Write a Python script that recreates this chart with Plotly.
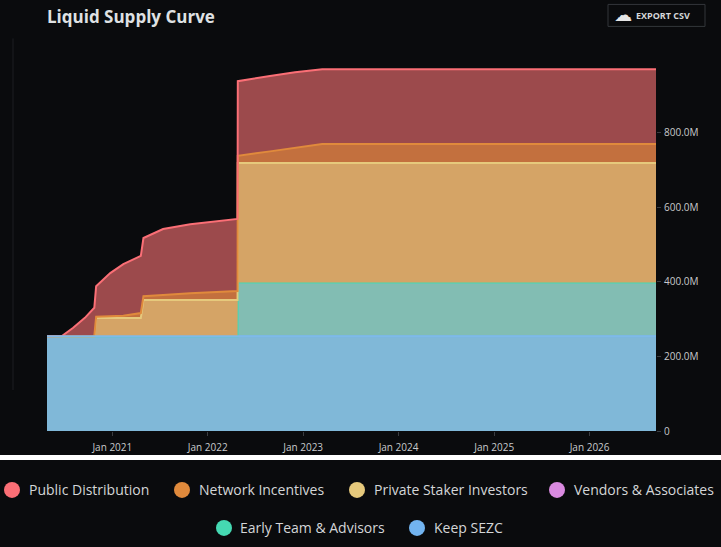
import plotly.graph_objects as go

dates = ["2020-04-26", "2020-06-15", "2020-06-22", "2020-08-03", "2020-09-18", "2020-10-24", "2020-10-31",
         "2020-12-24", "2021-02-12", "2021-04-20", "2021-04-30", "2021-07-14", "2021-10-26", "2022-04-25",
         "2022-04-26", "2022-08-27", "2022-12-01", "2023-03-15", "2026-09-12"]
keep_sezc = [254] * 19
early_team = [0] * 14 + [144] * 5
vendors = [0] * 19
private_staker = [0] * 6 + [49, 49, 49, 49, 97, 97, 97, 97, 320, 320, 320, 320, 320]
network = [0] * 6 + [3, 4, 6, 13, 10, 13, 18, 24, 19, 31, 41, 51, 51]
public = [0, 0, 0.5, 22, 49, 76, 82, 116, 138, 153, 156, 177, 185, 193, 200, 202, 202, 200, 200]

y_ticks = [0, 200, 400, 600, 800]
y_labels = ["0", "200.0M", "400.0M", "600.0M", "800.0M"]
legend_names = ["Public Distribution", "Network Incentives", "Private Staker Investors",
                "Vendors & Associates", "Early Team & Advisors", "Keep SEZC"]
legend_colors = ["#fb6f76", "#e08a3c", "#e6c97c", "#da8ae0", "#45d9b2", "#72b4f0"]

W, H = 721, 547
L, R, T, B = 47, 656, 38.6, 431
BG = "#0a0b0d"

series = [
    ("Keep SEZC", keep_sezc, "#72b0e0", "#80b8d8", 2),
    ("Early Team & Advisors", early_team, "#45d9b2", "#82bdb3", 2),
    ("Vendors & Associates", vendors, "#da8ae0", "#da8ae0", 0),
    ("Private Staker Investors", private_staker, "#e6c97c", "#d5a466", 2),
    ("Network Incentives", network, "#e08a3c", "#c3703e", 2),
    ("Public Distribution", public, "#fb6f76", "#9c4a4c", 2),
]

fig = go.Figure()
for name, vals, line, fill, lw in series:
    fig.add_trace(go.Scatter(x=dates, y=vals, name=name, mode="lines", stackgroup="a",
                             line=dict(color=line, width=lw, shape="linear"),
                             fillcolor=fill, hoverinfo="skip"))
# Keep SEZC's outline sits on top of the zero-height series at its upper edge.
fig.add_trace(go.Scatter(x=dates, y=keep_sezc, mode="lines", line=dict(color="#7fbae8", width=2),
                         hoverinfo="skip", showlegend=False))


def px(x):
    return (x - L) / (R - L)


def py(y):
    return (B - y) / (B - T)


shapes = [
    dict(type="rect", xref="paper", yref="paper", x0=px(0), x1=px(W), y0=py(460), y1=py(455),
         fillcolor="#ffffff", line_width=0, layer="above"),
    dict(type="line", xref="paper", yref="paper", x0=px(13), x1=px(13), y0=py(38), y1=py(390),
         line=dict(color="#1d1f22", width=1)),
    dict(type="rect", xref="paper", yref="paper", x0=px(608), x1=px(705), y0=py(26), y1=py(4),
         line=dict(color="#33363a", width=1), fillcolor="rgba(0,0,0,0)"),
]

annotations = [
    dict(text="<b>Liquid Supply Curve</b>", x=px(45), y=py(16), xref="paper", yref="paper", xanchor="left",
         yanchor="middle", showarrow=False, font=dict(size=17, color="#dfe1e3", family="Open Sans")),
    dict(text="<b>EXPORT CSV</b>", x=px(634), y=py(15.5), xref="paper", yref="paper", xanchor="left", yanchor="middle",
         showarrow=False, font=dict(size=9, color="#d5d7d9", family="Open Sans")),
    dict(text="☁", x=px(623), y=py(14), xref="paper", yref="paper", xanchor="center", yanchor="middle",
         showarrow=False, font=dict(size=18, color="#e6e6e6", family="DejaVu Sans")),
]

legend_pos = [(12, 27, 490), (182, 197, 490), (357, 372, 490), (557, 572, 490), (224, 238, 528), (417, 432, 528)]
for name, color, (cx, tx, cy) in zip(legend_names, legend_colors, legend_pos):
    shapes.append(dict(type="circle", xref="paper", yref="paper", x0=px(cx - 8), x1=px(cx + 8),
                       y0=py(cy + 8), y1=py(cy - 8), fillcolor=color, line_width=0))
    annotations.append(dict(text=name, x=px(tx), y=py(cy), xref="paper", yref="paper", xanchor="left",
                            yanchor="middle", showarrow=False,
                            font=dict(size=14, color="#d4d6d8", family="Open Sans")))

fig.update_layout(
    width=W, height=H, autosize=False, showlegend=False,
    paper_bgcolor=BG, plot_bgcolor=BG,
    margin=dict(l=L, r=W - R, t=T, b=H - B, pad=0),
    font=dict(family="Open Sans", color="#c8cacc", size=10),
    shapes=shapes, annotations=annotations, hovermode=False,
    xaxis=dict(type="date", range=["2020-04-26", "2026-09-12"], dtick="M12", tick0="2021-01-01",
               tickformat="%b %Y", showgrid=False, zeroline=False, ticks="outside", ticklen=4,
               tickcolor="#3a3c40", showline=False, ticklabelstandoff=3,
               tickfont=dict(size=10, color="#c8cacc")),
    yaxis=dict(side="right", range=[0, 1050], tickvals=y_ticks, ticktext=y_labels, showgrid=False,
               zeroline=False, ticks="outside", ticklen=4, tickcolor="#3a3c40", showline=False,
               ticklabelstandoff=1, tickfont=dict(size=10, color="#c8cacc")),
)

fig.write_html("out.html", config=dict(displayModeBar=False),
               post_script="document.body.style.margin='0';document.body.style.overflow='hidden';document.body.style.background='#0a0b0d';")
